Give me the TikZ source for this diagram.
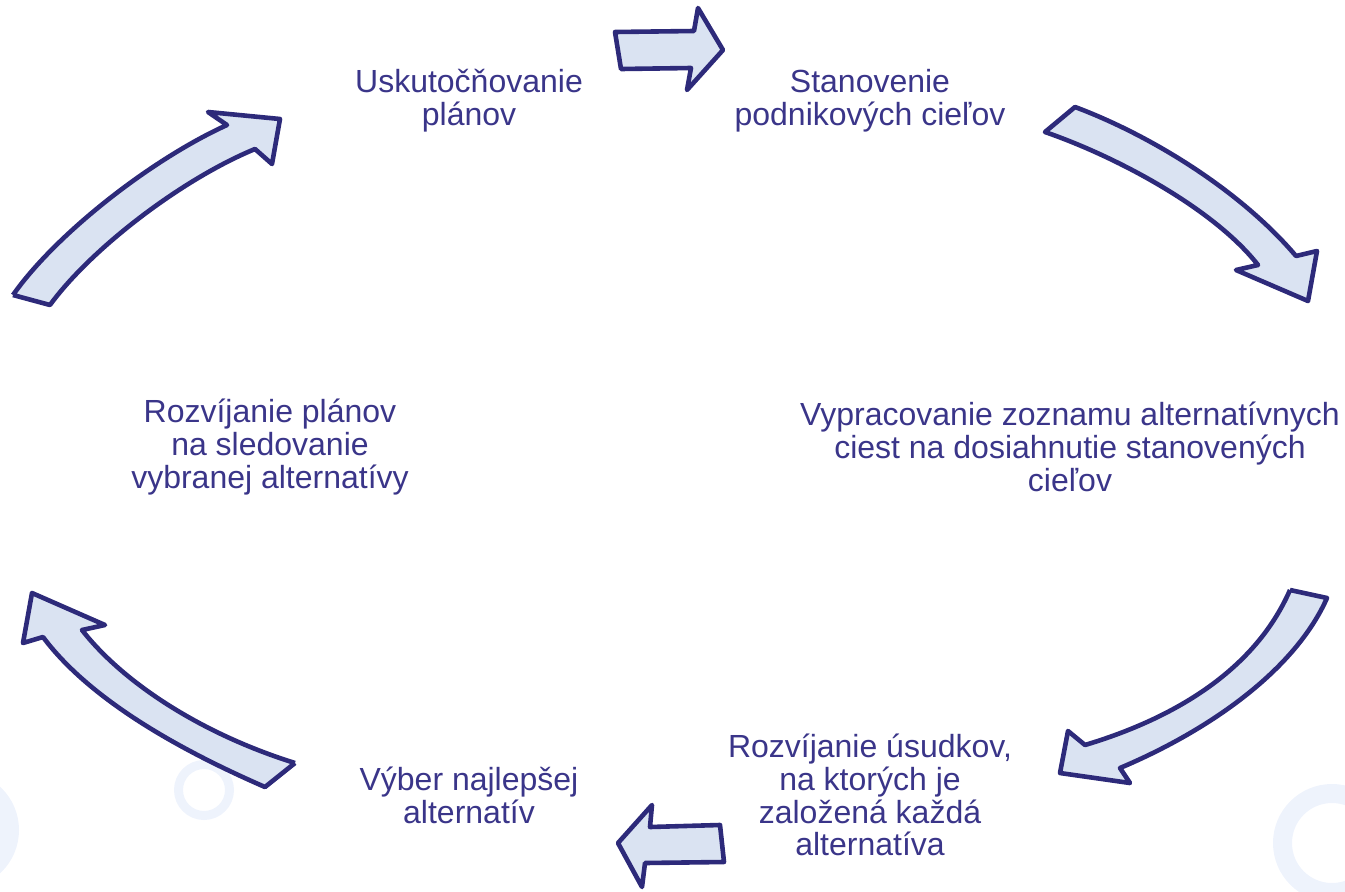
\documentclass[tikz,border=0pt]{standalone}
\usepackage{fontspec}
\setmainfont{Liberation Sans}
\definecolor{txt}{HTML}{3A3589}
\definecolor{edge}{HTML}{2D2A7A}
\definecolor{fillc}{HTML}{DAE3F2}
\definecolor{ring}{HTML}{EEF3FC}
\begin{document}
\begin{tikzpicture}[x=1pt,y=-1pt,
  label/.style={text=txt,align=center,font=\fontsize{32}{32.8}\selectfont,inner sep=0pt},
  blockarrow/.style={draw=edge,fill=fillc,line width=4.6pt,line join=round},
  ringstyle/.style={draw=ring}]
\useasboundingbox (0,0) rectangle (1345,892);
% background rings
\begin{scope}
\clip (0,0) rectangle (1345,892);
\draw[ringstyle,line width=9pt] (204,790) circle (25.5);
\draw[ringstyle,line width=19pt] (1332,843) circle (49.5);
\draw[ringstyle,line width=19pt] (-40,830) circle (49.5);
\end{scope}
% labels
\node[label] (a) at (469,100.5) {Uskutočňovanie\\plánov};
\node[label] (b) at (870,100.5) {Stanovenie\\podnikových cieľov};
\node[label] (c) at (1070,447) {Vypracovanie zoznamu alternatívnych\\ciest na dosiahnutie stanovených\\cieľov};
\node[label] (d) at (870,795) {Rozvíjanie úsudkov,\\na ktorých je\\založená každá\\alternatíva};
\node[label] (e) at (469,795.5) {Výber najlepšej\\alternatív};
\node[label] (f) at (270,447) {Rozvíjanie plánov\\na sledovanie\\vybranej alternatívy};
% arrows
\draw[blockarrow] (615,32) -- (694,31) -- (698,8) -- (723,50) -- (687,90) -- (691,68) -- (621,69) -- cycle;
\draw[blockarrow] (1075,107) .. controls (1150,135) and (1240,190) .. (1296,256)
  -- (1317,251) -- (1308,301) -- (1236,270) -- (1258,265)
  .. controls (1215,210) and (1120,158) .. (1045,132) -- cycle;
\draw[blockarrow] (1290,590) -- (1327,598)
  .. controls (1295,670) and (1210,730) .. (1120,768)
  -- (1130,783) -- (1060,773) -- (1068,731) -- (1085,745)
  .. controls (1175,718) and (1255,670) .. (1290,590);
\draw[blockarrow] (724,862) -- (645,863) -- (642,887) -- (618,843) -- (652,805) -- (650,827) -- (720,825) -- cycle;
\draw[blockarrow] (295,763) -- (265,787)
  .. controls (180,750) and (90,700) .. (43,637)
  -- (23,643) -- (32,593) -- (105,625) -- (82,630)
  .. controls (125,685) and (205,735) .. (295,763);
\draw[blockarrow] (13,295) -- (50,305)
  .. controls (90,250) and (180,180) .. (255,149)
  -- (272,164) -- (280,119) -- (208,112) -- (227,125)
  .. controls (150,160) and (55,235) .. (13,295);
\end{tikzpicture}
\end{document}
